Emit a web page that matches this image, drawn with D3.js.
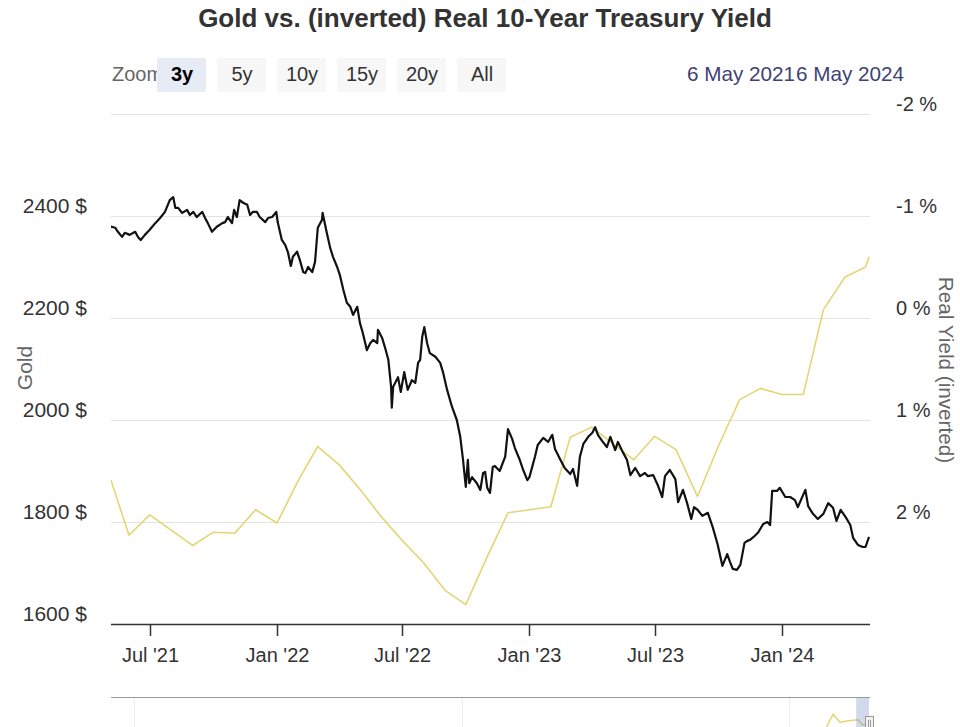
<!DOCTYPE html>
<html>
<head>
<meta charset="utf-8">
<script src="https://cdn.jsdelivr.net/npm/d3@7"></script>
<style>
  html, body { margin: 0; padding: 0; background: #fff; }
  svg { display: block; font-family: "Liberation Sans", Arial, Helvetica, sans-serif; }
</style>
</head>
<body>
<svg id="chart" width="960" height="727"></svg>
<script>
// ---------------- DATA ----------------
const titleText = "Gold vs. (inverted) Real 10-Year Treasury Yield";
const rangeButtons = ["3y", "5y", "10y", "15y", "20y", "All"];
const selectedButton = "3y";
const rangeStart = "2021-05-06";
const rangeEnd = "2024-05-06";
const rangeLabels = ["6 May 2021", "6 May 2024"];

// Gold price (USD): day offsets from rangeStart and readings
const goldDays = [
  0, 1, 6, 10, 16, 20, 27, 35, 39, 43, 49, 56, 64, 71, 78, 85, 90, 93, 97, 103,
  110, 114, 119, 124, 132, 136, 140, 146, 153, 161, 165, 169, 175, 178, 182, 186, 191, 197, 201, 205,
  211, 215, 223, 227, 233, 239, 241, 247, 252, 256, 260, 263, 269, 273, 278, 281, 285, 291, 295, 299,
  305, 306, 312, 317, 321, 327, 331, 336, 341, 346, 350, 356, 360, 364, 370, 375, 379, 385, 386, 392,
  396, 401, 405, 406, 408, 411, 415, 419, 424, 429, 435, 440, 444, 447, 450, 453, 457, 461, 469, 476,
  480, 486, 493, 500, 505, 509, 513, 516, 518, 522, 529, 534, 538, 541, 544, 548, 552, 555, 562, 570,
  574, 580, 584, 591, 596, 602, 605, 613, 617, 625, 632, 638, 642, 649, 656, 664, 668, 674, 678, 683,
  690, 696, 700, 704, 710, 717, 722, 729, 733, 740, 746, 751, 758, 765, 772, 776, 784, 791, 797, 801,
  808, 816, 820, 827, 833, 839, 843, 848, 855, 863, 870, 877, 884, 891, 895, 899, 905, 910, 916, 920,
  924, 931, 936, 943, 949, 953, 956, 963, 967, 975, 982, 989, 993, 1004, 1008, 1015, 1022, 1030, 1037, 1044,
  1049, 1055, 1062, 1069, 1073, 1080, 1087, 1091, 1096
];
const goldValues = [
  2377, 2379, 2377, 2369, 2359, 2367, 2363, 2369, 2359, 2353, 2363, 2373, 2386, 2396, 2408, 2431, 2437, 2416, 2416, 2406,
  2412, 2402, 2408, 2398, 2408, 2396, 2386, 2369, 2379, 2386, 2388, 2398, 2386, 2412, 2398, 2431, 2426, 2422, 2402, 2408,
  2408, 2398, 2388, 2396, 2398, 2408, 2388, 2353, 2343, 2328, 2302, 2320, 2330, 2314, 2290, 2288, 2300, 2290, 2310, 2377,
  2392, 2406, 2367, 2337, 2320, 2300, 2284, 2255, 2230, 2222, 2206, 2222, 2190, 2171, 2137, 2151, 2157, 2151, 2177, 2161,
  2143, 2118, 2065, 2024, 2065, 2073, 2084, 2055, 2094, 2059, 2078, 2073, 2112, 2118, 2163, 2182, 2151, 2131, 2124, 2112,
  2094, 2059, 2026, 2000, 1967, 1922, 1869, 1922, 1876, 1888, 1876, 1863, 1896, 1898, 1867, 1857, 1908, 1910, 1900, 1928,
  1982, 1963, 1945, 1922, 1902, 1882, 1888, 1928, 1951, 1965, 1957, 1971, 1943, 1924, 1906, 1894, 1904, 1871, 1928, 1953,
  1967, 1975, 1986, 1971, 1959, 1947, 1967, 1941, 1957, 1937, 1922, 1892, 1906, 1890, 1896, 1890, 1892, 1871, 1849, 1890,
  1902, 1884, 1839, 1863, 1837, 1806, 1829, 1824, 1812, 1818, 1790, 1757, 1714, 1737, 1722, 1708, 1706, 1716, 1759, 1763,
  1765, 1773, 1780, 1796, 1800, 1794, 1861, 1861, 1867, 1849, 1849, 1843, 1829, 1863, 1831, 1816, 1806, 1816, 1837, 1828,
  1802, 1824, 1810, 1794, 1769, 1755, 1751, 1751, 1771
];

// Real 10-year yield (%), monthly
const realDates = [
  "2021-05-06","2021-06-01","2021-07-01","2021-08-01","2021-09-01","2021-10-01","2021-11-01","2021-12-01",
  "2022-01-01","2022-02-01","2022-03-01","2022-04-01","2022-05-01","2022-06-01","2022-07-01","2022-08-01",
  "2022-09-01","2022-10-01","2022-11-01","2022-12-01","2023-01-01","2023-02-01","2023-03-01","2023-04-01",
  "2023-05-01","2023-06-01","2023-07-01","2023-08-01","2023-09-01","2023-10-01","2023-11-01","2023-12-01",
  "2024-01-01","2024-02-01","2024-03-01","2024-04-01","2024-05-01","2024-05-06"
];
const realValues = [
  1.59, 2.13, 1.93, 2.08, 2.23, 2.10, 2.11, 1.88,
  2.01, 1.59, 1.26, 1.44, 1.68, 1.95, 2.18, 2.40,
  2.67, 2.81, 2.34, 1.91, 1.88, 1.85, 1.17, 1.07,
  1.23, 1.39, 1.16, 1.29, 1.75, 1.26, 0.80, 0.69,
  0.75, 0.75, -0.08, -0.40, -0.50, -0.60
];

const goldTicks = [1600, 1800, 2000, 2200, 2400];
const goldTickLabels = ["1600 $", "1800 $", "2000 $", "2200 $", "2400 $"];
const realTicks = [-2, -1, 0, 1, 2];
const realTickLabels = ["-2 %", "-1 %", "0 %", "1 %", "2 %"];
const xTickDates = ["2021-07-01","2022-01-01","2022-07-01","2023-01-01","2023-07-01","2024-01-01"];
const xTickLabels = ["Jul '21","Jan '22","Jul '22","Jan '23","Jul '23","Jan '24"];

// Navigator (long history, only top edge visible)
const navYears = [2006.0, 2008.5, 2010.0, 2011.3, 2013.4, 2015.5, 2018.6, 2021.0, 2022.5, 2024.35];
const navValues = [2.2, 1.8, 1.2, 0.8, -0.3, 0.35, 0.2, 0.15, 0.6, 0.4];
const navGridYears = [1800, 1900, 2000];

// ---------------- LAYOUT ----------------
const svg = d3.select("#chart");
const W = 960, H = 727;
const plot = { left: 111, right: 870, top: 114, bottom: 624 };
const parse = d3.utcParse("%Y-%m-%d");
const t0 = parse(rangeStart), t1 = parse(rangeEnd);

const x = d3.scaleUtc().domain([t0, t1]).range([plot.left, plot.right - 1]);
const yGold = d3.scaleLinear().domain([1600, 2600]).range([plot.bottom, plot.top]);
const yReal = d3.scaleLinear().domain([-2, 3]).range([plot.top, plot.bottom]); // inverted

svg.append("rect").attr("width", W).attr("height", H).attr("fill", "#fff");

// Title
svg.append("text")
  .attr("x", 485).attr("y", 27)
  .attr("text-anchor", "middle")
  .attr("font-size", 26).attr("font-weight", "bold")
  .attr("fill", "#333")
  .text(titleText);

// Range selector
svg.append("text")
  .attr("x", 112).attr("y", 81)
  .attr("font-size", 20).attr("fill", "#666")
  .text("Zoom");
const btn = svg.append("g").selectAll("g").data(rangeButtons).join("g")
  .attr("transform", (d, i) => `translate(${157 + i * 60},58)`);
btn.append("rect")
  .attr("width", 49).attr("height", 34).attr("rx", 2)
  .attr("fill", d => d === selectedButton ? "#e6ebf5" : "#f7f7f7");
btn.append("text")
  .attr("x", 25).attr("y", 23)
  .attr("text-anchor", "middle")
  .attr("font-size", 20)
  .attr("font-weight", d => d === selectedButton ? "bold" : "normal")
  .attr("fill", d => d === selectedButton ? "#000" : "#333")
  .text(d => d);

svg.append("text").attr("x", 687).attr("y", 81)
  .attr("font-size", 20.7).attr("fill", "#3e4372").text(rangeLabels[0]);
svg.append("text").attr("x", 904).attr("y", 81).attr("text-anchor", "end")
  .attr("font-size", 20.7).attr("fill", "#3e4372").text(rangeLabels[1]);

// Gridlines
const gridVals = d3.range(1600, 2601, 200);
svg.append("g").selectAll("line").data(gridVals).join("line")
  .attr("x1", plot.left).attr("x2", plot.right)
  .attr("y1", d => Math.round(yGold(d)) + 0.5).attr("y2", d => Math.round(yGold(d)) + 0.5)
  .attr("stroke", "#e3e3e3").attr("stroke-width", 1);

// Left axis labels
svg.append("g").selectAll("text").data(goldTicks).join("text")
  .attr("x", 87).attr("y", d => yGold(d) - 3)
  .attr("text-anchor", "end").attr("font-size", 21).attr("fill", "#333")
  .text((d, i) => goldTickLabels[i]);

// Right axis labels
svg.append("g").selectAll("text").data(realTicks).join("text")
  .attr("x", 896).attr("y", d => yReal(d) - 3)
  .attr("text-anchor", "start").attr("font-size", 20).attr("fill", "#333")
  .text((d, i) => realTickLabels[i]);

// Axis titles
svg.append("text")
  .attr("transform", "translate(32,368) rotate(-90)")
  .attr("text-anchor", "middle").attr("font-size", 21).attr("fill", "#666")
  .text("Gold");
svg.append("text")
  .attr("transform", "translate(939,370) rotate(90)")
  .attr("text-anchor", "middle").attr("font-size", 20.7).attr("fill", "#666")
  .text("Real Yield (inverted)");

// X axis
const xAxisG = svg.append("g").attr("transform", `translate(0,${plot.bottom})`);
xAxisG.append("line").attr("x1", plot.left).attr("x2", plot.right)
  .attr("y1", 0.5).attr("y2", 0.5).attr("stroke", "#333").attr("stroke-width", 1.5);
const xt = xAxisG.selectAll("g.tick").data(xTickDates.map(parse)).join("g")
  .attr("transform", d => `translate(${Math.round(x(d)) + 0.5},0)`);
xt.append("line").attr("y1", 0).attr("y2", 12).attr("stroke", "#333").attr("stroke-width", 1.5);
xt.append("text").attr("y", 38).attr("text-anchor", "middle")
  .attr("font-size", 20).attr("fill", "#333")
  .text((d, i) => xTickLabels[i]);

// Series
svg.append("clipPath").attr("id", "plotclip").append("rect")
  .attr("x", plot.left).attr("y", plot.top - 10)
  .attr("width", plot.right - plot.left + 2).attr("height", plot.bottom - plot.top + 10);

const goldData = goldDays.map((dd, i) => ({ date: d3.utcDay.offset(t0, dd), value: goldValues[i] }));
const realData = realDates.map((d, i) => ({ date: parse(d), value: realValues[i] }));

svg.append("path").datum(realData)
  .attr("clip-path", "url(#plotclip)")
  .attr("fill", "none").attr("stroke", "#e4d575").attr("stroke-width", 1.6)
  .attr("stroke-linejoin", "round")
  .attr("d", d3.line().x(d => x(d.date)).y(d => yReal(d.value)));

svg.append("path").datum(goldData)
  .attr("clip-path", "url(#plotclip)")
  .attr("fill", "none").attr("stroke", "#111").attr("stroke-width", 2.2)
  .attr("stroke-linejoin", "round")
  .attr("d", d3.line().x(d => x(d.date)).y(d => yGold(d.value)));

// Navigator
const navTop = 697;
const navX = d3.scaleLinear().domain([1793, 2024.35]).range([plot.left, plot.right - 1]);
const navY = d3.scaleLinear().domain([-1.5, 3.5]).range([700, 760]);
svg.append("g").selectAll("line").data(navGridYears).join("line")
  .attr("x1", d => Math.round(navX(d)) + 0.5).attr("x2", d => Math.round(navX(d)) + 0.5)
  .attr("y1", navTop).attr("y2", H)
  .attr("stroke", "#eeeeee");
svg.append("path")
  .datum(navYears.map((yy, i) => ({ year: yy, value: navValues[i] })))
  .attr("fill", "none").attr("stroke", "#e4d575").attr("stroke-width", 1.5)
  .attr("d", d3.line().x(d => navX(d.year)).y(d => navY(d.value)));
const m0 = navX(2021.35), m1 = navX(2024.35);
svg.append("rect").attr("x", m0 - 3).attr("y", navTop).attr("width", m1 - m0 + 3).attr("height", 40)
  .attr("fill", "rgba(102,133,194,0.3)");
svg.append("line").attr("x1", plot.left).attr("x2", plot.right)
  .attr("y1", navTop + 0.5).attr("y2", navTop + 0.5)
  .attr("stroke", "#999").attr("stroke-width", 1.2);
const hg = svg.append("g").attr("transform", `translate(${Math.round(m1) - 4},716)`);
hg.append("rect").attr("x", 0.5).attr("y", 0.5).attr("width", 8).attr("height", 15)
  .attr("fill", "#f2f2f2").attr("stroke", "#999");
hg.append("line").attr("x1", 3.5).attr("x2", 3.5).attr("y1", 4).attr("y2", 12).attr("stroke", "#999");
hg.append("line").attr("x1", 5.5).attr("x2", 5.5).attr("y1", 4).attr("y2", 12).attr("stroke", "#999");
</script>
</body>
</html>
